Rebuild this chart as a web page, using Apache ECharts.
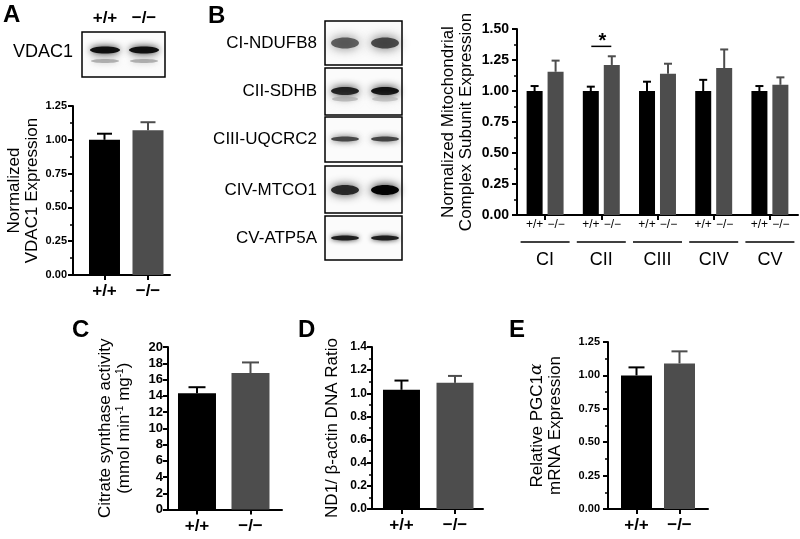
<!DOCTYPE html>
<html><head><meta charset="utf-8">
<script src="https://cdn.jsdelivr.net/npm/echarts@6/dist/echarts.min.js"></script>
<style>html,body{margin:0;padding:0;background:#fff}#c{width:800px;height:539px}</style>
</head><body><div id="c"></div>
<script>
// ---------- data ----------
const genotypes = ['+/+', '\u2212/\u2212'];
// Panel A: VDAC1
const vdacMean = [1.00, 1.07];
const vdacSem = [0.045, 0.06];
// Panel B: complex subunits
const complexes = ['CI', 'CII', 'CIII', 'CIV', 'CV'];
const wtMean = [1.00, 1.00, 1.00, 1.00, 1.00];
const wtSem = [0.04, 0.035, 0.075, 0.09, 0.04];
const koMean = [1.155, 1.21, 1.14, 1.185, 1.05];
const koSem = [0.09, 0.07, 0.08, 0.15, 0.06];
const sigComplexes = ['CII'];
// Panel C: citrate synthase
const csMean = [14.3, 16.8];
const csSem = [0.75, 1.3];
// Panel D: ND1 / beta-actin
const nd1Mean = [1.03, 1.09];
const nd1Sem = [0.08, 0.06];
// Panel E: PGC1a
const pgcMean = [1.00, 1.09];
const pgcSem = [0.06, 0.09];
// blot labels
const blotLabels = ['CI-NDUFB8', 'CII-SDHB', 'CIII-UQCRC2', 'CIV-MTCO1', 'CV-ATP5A'];

// ---------- styles ----------
const FONT = '"Liberation Sans", Arial, Helvetica, sans-serif';
const COLORS = ['#000000', '#4d4d4d'];

const chart = echarts.init(document.getElementById('c'), null, {renderer: 'canvas'});

function yAx(gi, max, interval, dec, fs, margin, name, nameGap, minor, rich) {
  return {
    type: 'value', gridIndex: gi, min: 0, max: max, interval: interval,
    axisLine: {show: true, onZero: false, lineStyle: {color: '#000', width: 2}},
    axisTick: {show: true, length: 5, lineStyle: {color: '#000', width: 2}},
    minorTick: {show: minor, splitNumber: 2, length: 3, lineStyle: {color: '#000', width: 1.5}},
    splitLine: {show: false}, minorSplitLine: {show: false},
    axisLabel: {margin: margin, fontSize: fs, fontWeight: 'bold', color: '#000', fontFamily: FONT,
      formatter: v => v.toFixed(dec)},
    name: name, nameLocation: 'middle', nameRotate: 90, nameGap: nameGap,
    nameTextStyle: Object.assign({fontSize: 17, color: '#000', fontFamily: FONT, lineHeight: 18}, rich ? {rich: rich} : {})
  };
}
function xVal(gi, min, max) {
  return {
    type: 'value', gridIndex: gi, min: min, max: max,
    axisLine: {show: true, onZero: false, lineStyle: {color: '#000', width: 2}},
    axisTick: {show: true, customValues: [0, 1], length: 5, lineStyle: {color: '#000', width: 2}},
    axisLabel: {customValues: [0, 1], formatter: v => genotypes[Math.round(v)], fontSize: 17,
      fontWeight: 'bold', color: '#000', margin: 8, fontFamily: FONT},
    splitLine: {show: false}
  };
}
function barSeries(gi, means, width) {
  return {
    type: 'bar', xAxisIndex: gi, yAxisIndex: gi, barWidth: width, z: 2,
    data: means.map((m, i) => ({value: [i, m], itemStyle: {color: COLORS[i]}}))
  };
}
function errSeries(gi, xs, means, sems, colorIdx, capHalf, dx) {
  return {
    type: 'custom', xAxisIndex: gi, yAxisIndex: gi, z: 5, clip: false,
    encode: {x: 0, y: 1},
    data: means.map((m, i) => [xs[i], m, sems[i], colorIdx[i]]),
    renderItem: function (params, api) {
      const p0 = api.coord([api.value(0), api.value(1)]);
      const p1 = api.coord([api.value(0), api.value(1) + api.value(2)]);
      const x = p0[0] + dx;
      const col = COLORS[api.value(3)];
      return {type: 'group', children: [
        {type: 'line', shape: {x1: x, y1: p0[1], x2: x, y2: p1[1]}, style: {stroke: col, lineWidth: 2}},
        {type: 'line', shape: {x1: x - capHalf, y1: p1[1], x2: x + capHalf, y2: p1[1]}, style: {stroke: col, lineWidth: 2}}
      ]};
    }
  };
}

// ---------- blots (decorative images) ----------
const graphics = [];
function txt(text, x, y, size, weight, align) {
  graphics.push({type: 'text', x: x, y: y, style: {text: text, fill: '#000',
    font: (weight || 'normal') + ' ' + size + 'px ' + FONT, align: align || 'left', verticalAlign: 'middle'}});
}
function box(x, y, w, h) {
  graphics.push({type: 'rect', shape: {x: x, y: y, width: w, height: h},
    style: {fill: '#fbfbfb', stroke: '#000', lineWidth: 1.5}, z: 1});
}
function band(cx, cy, rx, ry, color, blur) {
  graphics.push({type: 'ellipse', shape: {cx: cx, cy: cy, rx: rx, ry: ry},
    style: {fill: color, shadowBlur: blur, shadowColor: color}, z: 2});
}
// panel letters
txt('A', 3, 15, 24, 'bold');
txt('B', 208, 16, 24, 'bold');
txt('C', 72, 330, 24, 'bold');
txt('D', 298, 330, 24, 'bold');
txt('E', 509, 330, 24, 'bold');
// panel A blot
txt(genotypes[0], 105, 18, 17, 'bold', 'center');
txt(genotypes[1], 144, 18, 17, 'bold', 'center');
txt('VDAC1', 73, 52, 18, 'normal', 'right');
box(82, 32, 83, 45);
band(105, 50, 15, 3.5, 'rgba(10,10,10,0.95)', 7);
band(144, 50, 15, 3.5, 'rgba(10,10,10,0.95)', 7);
band(105, 61, 14, 2, 'rgba(150,150,150,0.7)', 6);
band(144, 61, 14, 2, 'rgba(150,150,150,0.7)', 6);
// panel B blots
const boxTops = [21, 68, 117, 166, 216];
const boxH = [44, 47, 45, 47, 44];
const bandSpec = [
  [5.5, 'rgba(65,65,65,0.8)', 'rgba(50,50,50,0.85)', 11],
  [4, 'rgba(25,25,25,0.95)', 'rgba(10,10,10,0.95)', 9],
  [2.5, 'rgba(60,60,60,0.9)', 'rgba(55,55,55,0.9)', 6],
  [5, 'rgba(30,30,30,0.92)', 'rgba(0,0,0,0.97)', 10],
  [2.5, 'rgba(25,25,25,0.95)', 'rgba(25,25,25,0.95)', 5]
];
const bandY = [43, 91, 139, 190, 238];
blotLabels.forEach((l, i) => {
  txt(l, 317, bandY[i], 17, 'normal', 'right');
  box(325, boxTops[i], 77, boxH[i]);
  const s = bandSpec[i];
  band(345, bandY[i], 14, s[0], s[1], s[3]);
  band(385, bandY[i], 14, s[0], s[2], s[3]);
});
band(345, 99, 13, 2.5, 'rgba(160,160,160,0.6)', 8);
band(385, 99, 13, 2.5, 'rgba(175,175,175,0.6)', 8);

// ---------- option ----------
const idx = [0, 1];
const option = {
  animation: false,
  backgroundColor: '#fff',
  textStyle: {fontFamily: FONT},
  grid: [
    {left: 73, top: 106, width: 97, height: 169},
    {left: 517, top: 29, width: 281, height: 186},
    {left: 168, top: 347, width: 114, height: 162.5},
    {left: 372, top: 347, width: 111, height: 162},
    {left: 608, top: 342, width: 100, height: 167}
  ],
  xAxis: [
    xVal(0, -0.724, 1.506),
    {type: 'category', gridIndex: 1, data: complexes, boundaryGap: true,
      axisLine: {show: true, onZero: false, lineStyle: {color: '#000', width: 2}},
      axisTick: {show: true, alignWithLabel: true, length: 5, lineStyle: {color: '#000', width: 2}},
      axisLabel: {show: false}, splitLine: {show: false}},
    xVal(2, -0.542, 1.589),
    xVal(3, -0.551, 1.523),
    xVal(4, -0.663, 1.663)
  ],
  yAxis: [
    yAx(0, 1.25, 0.25, 2, 11, 6, 'Normalized\nVDAC1 Expression', 32, true),
    yAx(1, 1.5, 0.25, 2, 14, 8, 'Normalized Mitochondrial\nComplex Subunit Expression', 42, true),
    yAx(2, 20, 2, 0, 13, 5, '{a|Citrate synthase activity}\n{a|(mmol min}{s|-1}{a| mg}{s|-1}{a|)}', 34, false,
      {a: {fontSize: 17, fontFamily: FONT, color: '#000', lineHeight: 19},
       s: {fontSize: 10, fontFamily: FONT, color: '#000', verticalAlign: 'top', lineHeight: 19, padding: [0, 0, 8, 0]}}),
    yAx(3, 1.4, 0.2, 1, 12, 5, 'ND1/ \u03b2-actin DNA Ratio', 31, true),
    yAx(4, 1.25, 0.25, 2, 11, 8, '{a|Relative PGC1}{i|\u03b1}\n{a|mRNA Expression}', 44, true,
      {a: {fontSize: 17, fontFamily: FONT, color: '#000', lineHeight: 18},
       i: {fontSize: 17, fontFamily: '"DejaVu Serif", serif', fontStyle: 'italic', color: '#000', lineHeight: 18}})
  ],
  graphic: {elements: graphics},
  series: [
    barSeries(0, vdacMean, 31),
    errSeries(0, idx, vdacMean, vdacSem, [0, 1], 7.5, 0),
    {type: 'bar', xAxisIndex: 1, yAxisIndex: 1, barWidth: 16, barGap: '31%', z: 2,
      itemStyle: {color: COLORS[0]}, data: wtMean},
    {type: 'bar', xAxisIndex: 1, yAxisIndex: 1, barWidth: 16, barGap: '31%', z: 2,
      itemStyle: {color: COLORS[1]}, data: koMean},
    errSeries(1, complexes.map((c, i) => i), wtMean, wtSem, wtMean.map(() => 0), 4, -10.5),
    errSeries(1, complexes.map((c, i) => i), koMean, koSem, koMean.map(() => 1), 4, 10.5),
    // group labels under B axis
    {type: 'custom', xAxisIndex: 1, yAxisIndex: 1, clip: false, z: 5,
      data: complexes.map((c, i) => [i, 0]),
      renderItem: function (params, api) {
        const p = api.coord([api.value(0), 0]);
        const name = complexes[api.value(0)];
        return {type: 'group', children: [
          {type: 'text', x: p[0] - 10.5, y: p[1] + 10, style: {text: genotypes[0], fill: '#000', font: '12px ' + FONT, align: 'center', verticalAlign: 'middle'}},
          {type: 'text', x: p[0] + 11, y: p[1] + 10, style: {text: genotypes[1], fill: '#000', font: '12px ' + FONT, align: 'center', verticalAlign: 'middle'}},
          {type: 'line', shape: {x1: p[0] - 24.5, y1: p[1] + 27, x2: p[0] + 24.5, y2: p[1] + 27}, style: {stroke: '#000', lineWidth: 1.5}},
          {type: 'text', x: p[0], y: p[1] + 45, style: {text: name, fill: '#000', font: '18px ' + FONT, align: 'center', verticalAlign: 'middle'}}
        ]};
      }},
    // significance marker
    {type: 'custom', xAxisIndex: 1, yAxisIndex: 1, clip: false, z: 5,
      data: sigComplexes.map(c => { const i = complexes.indexOf(c); return [i, koMean[i] + koSem[i] + 0.08]; }),
      renderItem: function (params, api) {
        const p = api.coord([api.value(0), api.value(1)]);
        return {type: 'group', children: [
          {type: 'line', shape: {x1: p[0] - 10, y1: p[1], x2: p[0] + 10, y2: p[1]}, style: {stroke: '#000', lineWidth: 1.5}},
          {type: 'text', x: p[0] + 1, y: p[1] - 5, style: {text: '*', fill: '#000', font: 'bold 20px ' + FONT, align: 'center', verticalAlign: 'middle'}}
        ]};
      }},
    barSeries(2, csMean, 38),
    errSeries(2, idx, csMean, csSem, [0, 1], 8.5, 0),
    barSeries(3, nd1Mean, 37),
    errSeries(3, idx, nd1Mean, nd1Sem, [0, 1], 7, 0),
    barSeries(4, pgcMean, 31),
    errSeries(4, idx, pgcMean, pgcSem, [0, 1], 8, 0)
  ]
};
chart.setOption(option);
</script>
</body></html>
